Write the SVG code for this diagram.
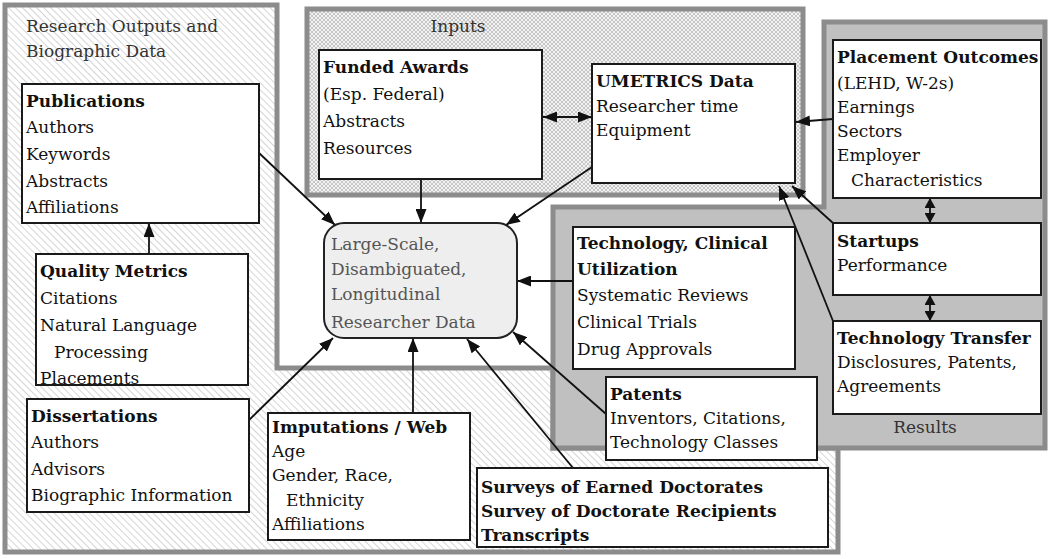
<svg xmlns="http://www.w3.org/2000/svg" width="1050" height="559" viewBox="0 0 1050 559">
<style>
.t{font-family:"DejaVu Serif","Liberation Serif",serif;font-size:17px;fill:#111}
.b{font-weight:bold}
.lbl{fill:#333}
.ctr{fill:#555}
.box{fill:#fff;stroke:#1a1a1a;stroke-width:2}
.reg{stroke:#8c8c8c;stroke-width:5}
.c{stroke:#111;stroke-width:1.8;fill:none}
</style>
<defs>
<pattern id="diag" width="5" height="5" patternUnits="userSpaceOnUse" patternTransform="rotate(-45)">
<rect width="5" height="5" fill="#fff"/>
<line x1="0" y1="0" x2="0" y2="5" stroke="#c4c4c4" stroke-width="1.4"/>
</pattern>
<pattern id="cross" width="4" height="4" patternUnits="userSpaceOnUse">
<rect width="4" height="4" fill="#f2f2f2"/>
<path d="M0,0 L4,4 M4,0 L0,4" stroke="#bcbcbc" stroke-width="0.8"/>
</pattern>
<marker id="ah" viewBox="0 0 14 11" refX="14" refY="5.5" markerWidth="14" markerHeight="11" orient="auto-start-reverse" markerUnits="userSpaceOnUse">
<path d="M0,0 L14,5.5 L0,11 z" fill="#111"/>
</marker>
<marker id="ahs" viewBox="0 0 10 11" refX="10" refY="5.5" markerWidth="10" markerHeight="11" orient="auto-start-reverse" markerUnits="userSpaceOnUse">
<path d="M0,0 L10,5.5 L0,11 z" fill="#111"/>
</marker>
</defs>
<rect width="1050" height="559" fill="#fff"/>

<g id="region-research-outputs">
<polygon class="reg" fill="url(#diag)" points="5,5 277,5 277,368 553,368 553,448 838,448 838,552 5,552"/>
<text class="t lbl" x="26" y="32">Research Outputs and</text>
<text class="t lbl" x="26" y="57">Biographic Data</text>
</g>
<g id="region-inputs">
<rect class="reg" x="307" y="9" width="496" height="186" fill="url(#cross)"/>
<text class="t lbl" x="458" y="32" text-anchor="middle">Inputs</text>
</g>
<g id="region-results">
<polygon class="reg" fill="#c0c0c0" points="824,22 1045,22 1045,448 553,448 553,207 824,207"/>
<text class="t lbl" x="925" y="433" text-anchor="middle">Results</text>
</g>

<g id="connectors">
<line class="c" x1="149" y1="254" x2="149" y2="223" marker-end="url(#ah)"/>
<line class="c" x1="259" y1="153" x2="335" y2="225" marker-end="url(#ah)"/>
<line class="c" x1="421" y1="179" x2="421" y2="223" marker-end="url(#ah)"/>
<line class="c" x1="592" y1="167" x2="506" y2="225" marker-end="url(#ah)"/>
<line class="c" x1="573" y1="281" x2="517" y2="281" marker-end="url(#ah)"/>
<line class="c" x1="606" y1="414" x2="513" y2="332" marker-end="url(#ah)"/>
<line class="c" x1="573" y1="468" x2="467" y2="339" marker-end="url(#ah)"/>
<line class="c" x1="413" y1="413" x2="413" y2="338" marker-end="url(#ah)"/>
<line class="c" x1="249" y1="420" x2="333" y2="338" marker-end="url(#ah)"/>
<line class="c" x1="543" y1="117" x2="592" y2="117" marker-start="url(#ah)" marker-end="url(#ah)"/>
<line class="c" x1="833" y1="119" x2="796" y2="122" marker-end="url(#ah)"/>
<line class="c" x1="833" y1="223" x2="792" y2="186" marker-end="url(#ah)"/>
<line class="c" x1="833" y1="321" x2="779" y2="186" marker-end="url(#ah)"/>
<line class="c" x1="930" y1="198" x2="930" y2="223" marker-start="url(#ahs)" marker-end="url(#ahs)"/>
<line class="c" x1="930" y1="295" x2="930" y2="321" marker-start="url(#ahs)" marker-end="url(#ahs)"/>
</g>

<g id="node-publications">
<rect class="box" x="22" y="84" width="237" height="139"/>
<text class="t b" x="26" y="107">Publications</text>
<text class="t" x="26" y="133">Authors</text>
<text class="t" x="26" y="160">Keywords</text>
<text class="t" x="26" y="187">Abstracts</text>
<text class="t" x="26" y="213">Affiliations</text>
</g>
<g id="node-quality-metrics">
<rect class="box" x="36" y="254" width="212" height="131"/>
<text class="t b" x="40" y="277">Quality Metrics</text>
<text class="t" x="40" y="304">Citations</text>
<text class="t" x="40" y="331">Natural Language</text>
<text class="t" x="54" y="358">Processing</text>
<text class="t" x="40" y="384">Placements</text>
</g>
<g id="node-dissertations">
<rect class="box" x="27" y="399" width="222" height="113"/>
<text class="t b" x="31" y="422">Dissertations</text>
<text class="t" x="31" y="448">Authors</text>
<text class="t" x="31" y="475">Advisors</text>
<text class="t" x="31" y="501">Biographic Information</text>
</g>
<g id="node-imputations">
<rect class="box" x="268" y="413" width="202" height="127"/>
<text class="t b" x="272" y="433">Imputations / Web</text>
<text class="t" x="272" y="457">Age</text>
<text class="t" x="272" y="481">Gender, Race,</text>
<text class="t" x="286" y="506">Ethnicity</text>
<text class="t" x="272" y="530">Affiliations</text>
</g>
<g id="node-surveys">
<rect class="box" x="477" y="468" width="351" height="79"/>
<text class="t b" x="481" y="493">Surveys of Earned Doctorates</text>
<text class="t b" x="481" y="517">Survey of Doctorate Recipients</text>
<text class="t b" x="481" y="541">Transcripts</text>
</g>
<g id="node-funded-awards">
<rect class="box" x="319" y="50" width="223" height="129"/>
<text class="t b" x="323" y="73">Funded Awards</text>
<text class="t" x="323" y="100">(Esp. Federal)</text>
<text class="t" x="323" y="127">Abstracts</text>
<text class="t" x="323" y="154">Resources</text>
</g>
<g id="node-umetrics">
<rect class="box" x="592" y="64" width="203" height="119"/>
<text class="t b" x="596" y="87">UMETRICS Data</text>
<text class="t" x="596" y="112">Researcher time</text>
<text class="t" x="596" y="136">Equipment</text>
</g>
<g id="node-central">
<rect x="324" y="223" width="193" height="115" rx="20" fill="#eeeeee" stroke="#222" stroke-width="2"/>
<text class="t ctr" x="331" y="250">Large-Scale,</text>
<text class="t ctr" x="331" y="275">Disambiguated,</text>
<text class="t ctr" x="331" y="300">Longitudinal</text>
<text class="t ctr" x="331" y="328">Researcher Data</text>
</g>
<g id="node-placement">
<rect class="box" x="833" y="40" width="208" height="158"/>
<text class="t b" x="837" y="63">Placement Outcomes</text>
<text class="t" x="837" y="89">(LEHD, W-2s)</text>
<text class="t" x="837" y="113">Earnings</text>
<text class="t" x="837" y="137">Sectors</text>
<text class="t" x="837" y="161">Employer</text>
<text class="t" x="851" y="186">Characteristics</text>
</g>
<g id="node-startups">
<rect class="box" x="833" y="223" width="208" height="72"/>
<text class="t b" x="837" y="247">Startups</text>
<text class="t" x="837" y="271">Performance</text>
</g>
<g id="node-tech-transfer">
<rect class="box" x="833" y="321" width="208" height="93"/>
<text class="t b" x="837" y="344">Technology Transfer</text>
<text class="t" x="837" y="368">Disclosures, Patents,</text>
<text class="t" x="837" y="392">Agreements</text>
</g>
<g id="node-tech-clinical">
<rect class="box" x="573" y="227" width="222" height="142"/>
<text class="t b" x="577" y="249">Technology, Clinical</text>
<text class="t b" x="577" y="275">Utilization</text>
<text class="t" x="577" y="301">Systematic Reviews</text>
<text class="t" x="577" y="328">Clinical Trials</text>
<text class="t" x="577" y="355">Drug Approvals</text>
</g>
<g id="node-patents">
<rect class="box" x="606" y="377" width="211" height="83"/>
<text class="t b" x="610" y="400">Patents</text>
<text class="t" x="610" y="424">Inventors, Citations,</text>
<text class="t" x="610" y="448">Technology Classes</text>
</g>
</svg>
